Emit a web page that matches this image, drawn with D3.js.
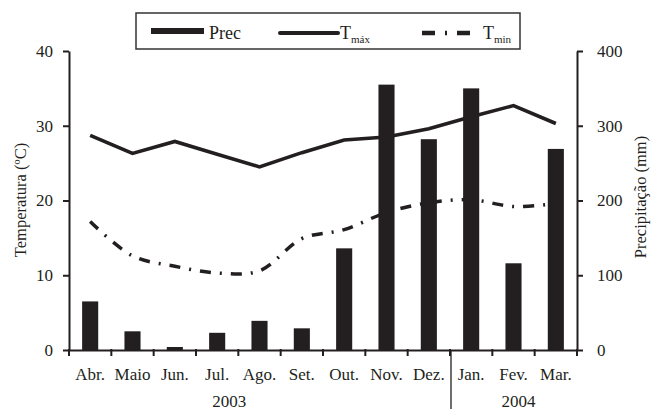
<!DOCTYPE html>
<html>
<head>
<meta charset="utf-8">
<script src="https://cdn.jsdelivr.net/npm/d3@7"></script>
<style>
  body { margin: 0; background: #fff; }
  text { font-family: "Liberation Serif", "Times New Roman", serif; fill: #231f20; }
</style>
</head>
<body>
<div class="chart"></div>
<script>
// Chart data
var months = ["Abr.", "Maio", "Jun.", "Jul.", "Ago.", "Set.", "Out.", "Nov.", "Dez.", "Jan.", "Fev.", "Mar."];
var prec = [65, 25, 4, 23, 39, 29, 136, 355, 282, 350, 116, 269];
var tmax = [28.7, 26.3, 27.9, 26.2, 24.5, 26.4, 28.1, 28.5, 29.6, 31.2, 32.7, 30.3];
var tmin = [17.2, 12.6, 11.2, 10.3, 10.6, 14.9, 16.1, 18.4, 19.7, 20.1, 19.2, 19.6];
var tempTicks = [0, 10, 20, 30, 40];
var precTicks = [0, 100, 200, 300, 400];

var svgWidth = 651;
var svgHeight = 410;
var ink = "#231f20";

var margin = { top: 51, right: 74, bottom: 60, left: 69 };
var width = svgWidth - margin.left - margin.right;
var height = svgHeight - margin.top - margin.bottom;

var svg = d3.select(".chart")
  .append("svg")
  .attr("width", svgWidth)
  .attr("height", svgHeight);

var chartGroup = svg.append("g")
  .attr("transform", `translate(${margin.left}, ${margin.top})`);

// Scales
var x = d3.scaleBand().domain(months).range([0, width])
  .paddingInner(0.62).paddingOuter(0.31);
var yT = d3.scaleLinear().domain([0, 40]).range([height, 0]);
var yP = d3.scaleLinear().domain([0, 400]).range([height, 0]);
var step = x.step();
var boundary = d => x(d) - step * 0.31;

// Bars
chartGroup.selectAll(".bar")
  .data(months)
  .enter()
  .append("rect")
  .attr("x", d => x(d))
  .attr("y", (d, i) => yP(prec[i]))
  .attr("width", x.bandwidth())
  .attr("height", (d, i) => height - yP(prec[i]))
  .attr("fill", ink);

// Lines
var lineMax = d3.line()
  .x((d, i) => x(months[i]) + x.bandwidth() / 2)
  .y(d => yT(d));
var lineMin = d3.line()
  .x((d, i) => x(months[i]) + x.bandwidth() / 2)
  .y(d => yT(d))
  .curve(d3.curveCatmullRom);

chartGroup.append("path")
  .attr("d", lineMax(tmax))
  .attr("fill", "none")
  .attr("stroke", ink)
  .attr("stroke-width", 3.6);

chartGroup.append("path")
  .attr("d", lineMin(tmin))
  .attr("fill", "none")
  .attr("stroke", ink)
  .attr("stroke-width", 3.5)
  .attr("stroke-dasharray", "11,9,2,9");

// Axes
var leftAxis = d3.axisLeft(yT).tickValues(tempTicks).tickSize(6).tickPadding(10).tickSizeOuter(0);
var rightAxis = d3.axisRight(yP).tickValues(precTicks).tickSize(6).tickPadding(14).tickSizeOuter(0);
var bottomAxis = d3.axisBottom(x).tickSize(0).tickPadding(18).tickSizeOuter(0);

var gl = chartGroup.append("g").call(leftAxis);
var gr = chartGroup.append("g").attr("transform", `translate(${width}, 0)`).call(rightAxis);
var gb = chartGroup.append("g").attr("transform", `translate(0, ${height})`).call(bottomAxis);

[gl, gr, gb].forEach(g => {
  g.selectAll("path, line").attr("stroke", ink).attr("stroke-width", 2);
  g.selectAll("text")
    .attr("fill", ink)
    .style("font-family", '"Liberation Serif", "Times New Roman", serif')
    .style("font-size", "17px");
});

// ticks between months on the x axis
chartGroup.selectAll(".xtick")
  .data(months.concat(["end"]))
  .enter()
  .append("line")
  .attr("x1", (d, i) => i < months.length ? boundary(d) : width)
  .attr("x2", (d, i) => i < months.length ? boundary(d) : width)
  .attr("y1", height - 1)
  .attr("y2", height + 6)
  .attr("stroke", ink)
  .attr("stroke-width", 2);

// year separator and labels
chartGroup.append("line")
  .attr("x1", boundary("Jan.") + 1)
  .attr("x2", boundary("Jan.") + 1)
  .attr("y1", height)
  .attr("y2", height + 59)
  .attr("stroke", ink)
  .attr("stroke-width", 1.3);

chartGroup.append("text")
  .attr("x", boundary("Ago.") - 9)
  .attr("y", height + 57)
  .attr("text-anchor", "middle")
  .style("font-size", "17px")
  .text("2003");

chartGroup.append("text")
  .attr("x", x("Fev.") + x.bandwidth() / 2 + 5)
  .attr("y", height + 57)
  .attr("text-anchor", "middle")
  .style("font-size", "17px")
  .text("2004");

// Axis labels
svg.append("text")
  .attr("transform", "translate(20, 200) rotate(-90)")
  .attr("text-anchor", "middle")
  .attr("dy", "0.35em")
  .style("font-size", "16.5px")
  .text("Temperatura (ºC)");

svg.append("text")
  .attr("transform", "translate(641, 197) rotate(-90)")
  .attr("text-anchor", "middle")
  .attr("dy", "0.3em")
  .style("font-size", "16.5px")
  .text("Precipitação (mm)");

// Legend
var legend = svg.append("g");
legend.append("rect")
  .attr("x", 136).attr("y", 13)
  .attr("width", 384).attr("height", 36)
  .attr("fill", "#fff")
  .attr("stroke", "#333")
  .attr("stroke-width", 1.5);

legend.append("rect")
  .attr("x", 151).attr("y", 28)
  .attr("width", 53).attr("height", 6)
  .attr("fill", ink);
legend.append("text")
  .attr("x", 209).attr("y", 39)
  .style("font-size", "18px")
  .text("Prec");

legend.append("line")
  .attr("x1", 280).attr("x2", 338)
  .attr("y1", 33).attr("y2", 33)
  .attr("stroke", ink)
  .attr("stroke-width", 4)
  .attr("stroke-linecap", "round");
var tx = legend.append("text")
  .attr("x", 340).attr("y", 39)
  .style("font-size", "18px");
tx.append("tspan").text("T");
tx.append("tspan").attr("dy", 4).style("font-size", "11px").text("máx");

legend.append("line")
  .attr("x1", 422).attr("x2", 470)
  .attr("y1", 33).attr("y2", 33)
  .attr("stroke", ink)
  .attr("stroke-width", 4.5)
  .attr("stroke-dasharray", "13,10,2,10");
var tn = legend.append("text")
  .attr("x", 483).attr("y", 39)
  .style("font-size", "18px");
tn.append("tspan").text("T");
tn.append("tspan").attr("dy", 4).style("font-size", "11px").text("min");
</script>
</body>
</html>
